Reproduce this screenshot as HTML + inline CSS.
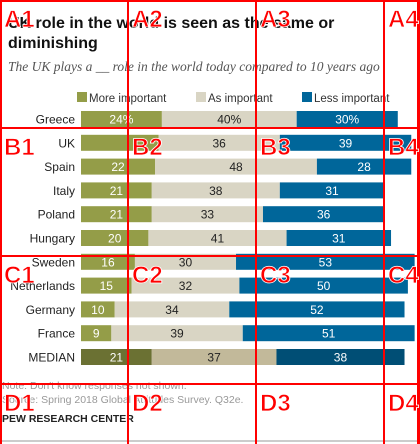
<!DOCTYPE html>
<html><head><meta charset="utf-8"><style>
html,body{margin:0;padding:0;background:#fff;}
body{width:420px;height:444px;position:relative;overflow:hidden;font-family:"Liberation Sans",sans-serif;}
.t{position:absolute;white-space:nowrap;}
</style></head><body>
<div class="t" style="left:8px;top:14px;font-size:16px;font-weight:bold;line-height:20px;color:#111;">UK role in the world is seen as the same or<br>diminishing</div>
<div class="t" style="left:8px;top:59px;font-family:'Liberation Serif',serif;font-style:italic;font-size:13.5px;color:#555;">The UK plays a __ role in the world today compared to 10 years ago</div>
<svg id="chart" width="420" height="444" style="position:absolute;left:0;top:0"></svg>
<div class="t" style="left:2px;top:380px;font-size:10.5px;color:#999;">Note: Don't know responses not shown.</div>
<div class="t" style="left:2px;top:394px;font-size:10.5px;color:#999;">Source: Spring 2018 Global Attitudes Survey. Q32e.</div>
<div class="t" style="left:2px;top:413px;font-size:10.5px;font-weight:bold;color:#222;">PEW RESEARCH CENTER</div>
<div style="position:absolute;left:0;top:440px;width:420px;height:2px;background:#ccc;"></div>
<svg id="grid" width="420" height="444" style="position:absolute;left:0;top:0"></svg>
<script>
const countries=["Greece","UK","Spain","Italy","Poland","Hungary","Sweden","Netherlands","Germany","France","MEDIAN"];
const moreVals=[24,23,22,21,21,20,16,15,10,9,21];
const asVals=[40,36,48,38,33,41,30,32,34,39,37];
const lessVals=[30,39,28,31,36,31,53,50,52,51,38];
const moreLabels=["24%","","22","21","21","20","16","15","10","9","21"];
const asLabels=["40%","36","48","38","33","41","30","32","34","39","37"];
const lessLabels=["30%","39","28","31","36","31","53","50","52","51","38"];
const legendLabels=["More important","As important","Less important"];
const NS="http://www.w3.org/2000/svg";
const svg=document.getElementById('chart');
const x0=81,pxPer=3.37;
function xs(v){return x0+v*pxPer;}
function ys(i){return 119+i*23.8;}
function mk(tag,attrs,parent){const e=document.createElementNS(NS,tag);for(const k in attrs)e.setAttribute(k,attrs[k]);(parent||svg).appendChild(e);return e;}
const colors=[["#949d48","#d9d5c4","#00669a"],["#6b7133","#c2b99a","#004e75"]];
const txtCol=["#fff","#222","#fff"];
const lx=[77,196,302];
legendLabels.forEach((l,j)=>{
  const r=mk('rect',{x:lx[j],y:92,width:10,height:10,fill:colors[0][j]});
  
  
  const t=mk('text',{x:lx[j]+12,y:102,'font-size':11.5,fill:'#333'});
  t.textContent=l;
  
  
});
countries.forEach((c,i)=>{
  const y=ys(i),h=16,pal=colors[i===countries.length-1?1:0];
  const lab=mk('text',{x:75,y:y+4.5,'font-size':12,fill:'#222','text-anchor':'end'});
  lab.textContent=c;
  
  
  const segs=[moreVals[i],asVals[i],lessVals[i]],labs=[moreLabels[i],asLabels[i],lessLabels[i]];
  let acc=0;
  segs.forEach((v,j)=>{
    const r=mk('rect',{x:xs(acc),y:y-h/2,width:v*pxPer,height:h,fill:pal[j]});
    
    
    const t=mk('text',{x:xs(acc+v/2),y:y+4.5,'font-size':12,fill:txtCol[j],'text-anchor':'middle'});
    t.textContent=labs[j];
    
    
    acc+=v;
  });
});
const g=document.getElementById('grid');
function gl(a){const e=document.createElementNS(NS,'rect');for(const k in a)e.setAttribute(k,a[k]);e.setAttribute('fill','#f00');g.appendChild(e);}
gl({x:0,y:0,width:420,height:2});gl({x:0,y:0,width:2,height:444});gl({x:417,y:0,width:3,height:444});
[127,255,383].forEach(v=>{gl({x:v,y:0,width:2,height:444});gl({x:0,y:v,width:420,height:2});});
const rows="ABCD",cols=[4,132,260,388];
for(let r=0;r<4;r++)for(let c=0;c<4;c++){
  const t=document.createElementNS(NS,'text');
  t.setAttribute('x',cols[c]);t.setAttribute('y',r*128+27);
  t.setAttribute('font-size','24');t.setAttribute('font-weight','bold');
  t.setAttribute('fill','#f00');t.setAttribute('stroke','#fff');t.setAttribute('stroke-width','0.8');
  t.setAttribute('font-family','Liberation Sans, sans-serif');
  
  
  t.textContent=rows[r]+(c+1);g.appendChild(t);
}
</script>
</body></html>
